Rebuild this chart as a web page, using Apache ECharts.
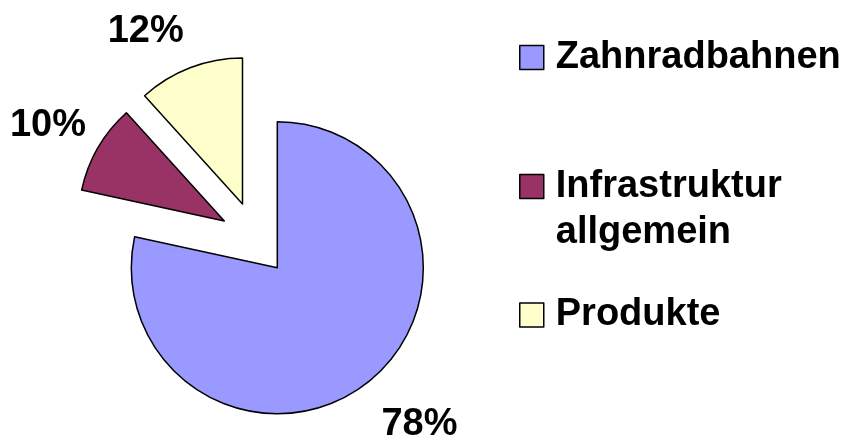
<!DOCTYPE html>
<html><head><meta charset="utf-8">
<script src="https://cdn.jsdelivr.net/npm/echarts@6/dist/echarts.min.js"></script>
<style>html,body{margin:0;padding:0;background:#fff}#c{width:854px;height:438px}</style>
</head><body><div id="c"></div>
<script>
const categories = ['Zahnradbahnen', 'Infrastruktur allgemein', 'Produkte'];
const values = [78.4, 9.9, 11.7];
const colors = ['#9999FF', '#993366', '#FFFFCC'];
const legendText = ['Zahnradbahnen', '\nInfrastruktur\nallgemein', 'Produkte'];

const FONT = '"Liberation Sans", Arial, sans-serif';
const FS = 38;
// per-slice placement (exploded slices drawn as separate pies)
const sliceLayout = [
  { center: [277.3, 267.7], length: 55, length2: 11 },
  { center: [224.3, 221], length: 45, length2: 6 },
  { center: [242.5, 204], length: 38.5, length2: 25.5 }
];
const legendTops = [34.5, 117.5, 292];

const series = sliceLayout.map((sl, i) => ({
  type: 'pie',
  radius: 146,
  center: sl.center,
  startAngle: 90,
  clockwise: true,
  avoidLabelOverlap: false,
  animation: false,
  silent: true,
  emphasis: { disabled: true },
  data: categories.map((n, j) => ({
    name: n,
    value: values[j],
    itemStyle: j === i
      ? { color: colors[j], borderColor: '#000', borderWidth: 1.5 }
      : { color: 'rgba(0,0,0,0)', borderWidth: 0 },
    label: { show: j === i },
    labelLine: { show: false }
  })),
  label: {
    position: 'outside',
    formatter: p => Math.round(p.percent) + '%',
    fontSize: FS, fontWeight: 'bold', fontFamily: FONT, color: '#000',
    distanceToLabelLine: 5
  },
  labelLine: { show: false, length: sl.length, length2: sl.length2 },
  labelLayout: { align: 'center', verticalAlign: 'middle' }
}));

const legend = categories.map((n, i) => ({
  data: [{ name: n, itemStyle: { color: colors[i], borderColor: '#000', borderWidth: 1.5 } }],
  left: 519, top: legendTops[i],
  orient: 'vertical', icon: 'rect', itemWidth: 24, itemHeight: 24, padding: 0,
  selectedMode: false,
  formatter: name => legendText[categories.indexOf(name)],
  textStyle: { fontSize: FS, fontWeight: 'bold', fontFamily: FONT, color: '#000', lineHeight: 46, padding: [0, 0, 0, 7] }
}));

const chart = echarts.init(document.getElementById('c'), null, { renderer: 'canvas' });
chart.setOption({ animation: false, backgroundColor: '#fff', legend, series });
</script></body></html>
